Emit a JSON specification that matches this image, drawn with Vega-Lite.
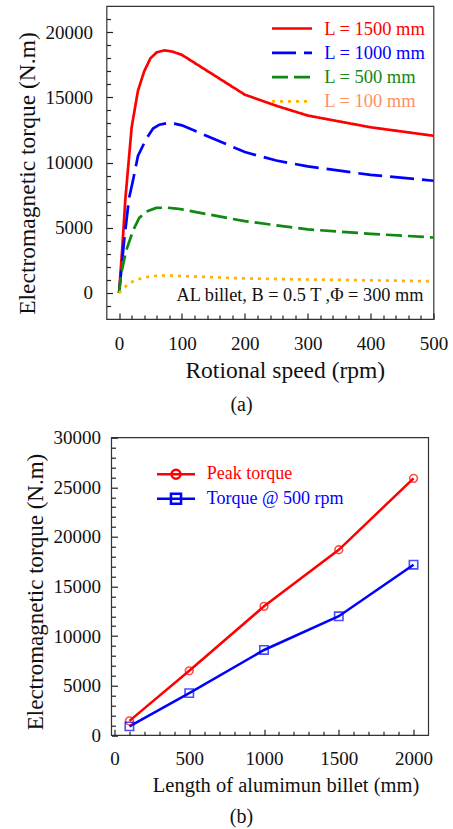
{
  "$schema": "https://vega.github.io/schema/vega-lite/v6.json",
  "background": "white",
  "padding": {"left": 14.5, "top": 5, "right": 5, "bottom": 5},
  "bounds": "flush",
  "spacing": 118.7,
  "resolve": {"scale": {"color": "independent", "strokeDash": "independent"}, "legend": {"color": "independent", "strokeDash": "independent"}},
  "vconcat": [
    {
      "width": 327,
      "height": 313,
      "view": {"stroke": "#333", "strokeWidth": 1.2},
      "title": {"text": "(a)", "orient": "bottom", "anchor": "middle", "frame": "group", "dx": -28.5, "offset": 13, "font": "Liberation Serif", "fontSize": 20, "fontWeight": "normal", "color": "#111"},
      "resolve": {"axis": {"x": "independent", "y": "independent"}},
      "layer": [
        {
          "data": {"values": [
            {"rpm": 0, "torque": 0, "L": "L = 1500 mm"},
            {"rpm": 5, "torque": 3400, "L": "L = 1500 mm"},
            {"rpm": 10, "torque": 7200, "L": "L = 1500 mm"},
            {"rpm": 20, "torque": 12700, "L": "L = 1500 mm"},
            {"rpm": 30, "torque": 15500, "L": "L = 1500 mm"},
            {"rpm": 40, "torque": 17000, "L": "L = 1500 mm"},
            {"rpm": 50, "torque": 18000, "L": "L = 1500 mm"},
            {"rpm": 60, "torque": 18450, "L": "L = 1500 mm"},
            {"rpm": 72, "torque": 18600, "L": "L = 1500 mm"},
            {"rpm": 85, "torque": 18500, "L": "L = 1500 mm"},
            {"rpm": 100, "torque": 18250, "L": "L = 1500 mm"},
            {"rpm": 200, "torque": 15200, "L": "L = 1500 mm"},
            {"rpm": 250, "torque": 14350, "L": "L = 1500 mm"},
            {"rpm": 300, "torque": 13600, "L": "L = 1500 mm"},
            {"rpm": 400, "torque": 12700, "L": "L = 1500 mm"},
            {"rpm": 500, "torque": 12050, "L": "L = 1500 mm"},
            {"rpm": 0, "torque": 0, "L": "L = 1000 mm"},
            {"rpm": 8, "torque": 4000, "L": "L = 1000 mm"},
            {"rpm": 16, "torque": 7300, "L": "L = 1000 mm"},
            {"rpm": 22, "torque": 8600, "L": "L = 1000 mm"},
            {"rpm": 30, "torque": 10500, "L": "L = 1000 mm"},
            {"rpm": 43, "torque": 11800, "L": "L = 1000 mm"},
            {"rpm": 54, "torque": 12600, "L": "L = 1000 mm"},
            {"rpm": 64, "torque": 12900, "L": "L = 1000 mm"},
            {"rpm": 75, "torque": 13000, "L": "L = 1000 mm"},
            {"rpm": 88, "torque": 12980, "L": "L = 1000 mm"},
            {"rpm": 100, "torque": 12850, "L": "L = 1000 mm"},
            {"rpm": 200, "torque": 10800, "L": "L = 1000 mm"},
            {"rpm": 250, "torque": 10150, "L": "L = 1000 mm"},
            {"rpm": 300, "torque": 9700, "L": "L = 1000 mm"},
            {"rpm": 400, "torque": 9050, "L": "L = 1000 mm"},
            {"rpm": 500, "torque": 8600, "L": "L = 1000 mm"},
            {"rpm": 0, "torque": 0, "L": "L = 500 mm"},
            {"rpm": 3, "torque": 1400, "L": "L = 500 mm"},
            {"rpm": 11, "torque": 3200, "L": "L = 500 mm"},
            {"rpm": 22, "torque": 4750, "L": "L = 500 mm"},
            {"rpm": 32, "torque": 5750, "L": "L = 500 mm"},
            {"rpm": 43, "torque": 6230, "L": "L = 500 mm"},
            {"rpm": 59, "torque": 6520, "L": "L = 500 mm"},
            {"rpm": 75, "torque": 6540, "L": "L = 500 mm"},
            {"rpm": 91, "torque": 6470, "L": "L = 500 mm"},
            {"rpm": 100, "torque": 6400, "L": "L = 500 mm"},
            {"rpm": 200, "torque": 5500, "L": "L = 500 mm"},
            {"rpm": 300, "torque": 4870, "L": "L = 500 mm"},
            {"rpm": 400, "torque": 4530, "L": "L = 500 mm"},
            {"rpm": 500, "torque": 4250, "L": "L = 500 mm"},
            {"rpm": 0, "torque": 0, "L": "L = 100 mm"},
            {"rpm": 11, "torque": 520, "L": "L = 100 mm"},
            {"rpm": 24, "torque": 950, "L": "L = 100 mm"},
            {"rpm": 38, "torque": 1150, "L": "L = 100 mm"},
            {"rpm": 51, "torque": 1280, "L": "L = 100 mm"},
            {"rpm": 64, "torque": 1330, "L": "L = 100 mm"},
            {"rpm": 77, "torque": 1340, "L": "L = 100 mm"},
            {"rpm": 100, "torque": 1290, "L": "L = 100 mm"},
            {"rpm": 200, "torque": 1110, "L": "L = 100 mm"},
            {"rpm": 300, "torque": 1030, "L": "L = 100 mm"},
            {"rpm": 400, "torque": 960, "L": "L = 100 mm"},
            {"rpm": 500, "torque": 900, "L": "L = 100 mm"}
          ]},
          "mark": {"type": "line", "strokeWidth": 2.7},
          "encoding": {
            "x": {"field": "rpm", "type": "quantitative",
              "scale": {"domain": [-20, 500], "nice": false, "zero": false},
              "axis": {"orient": "bottom", "values": [0, 100, 200, 300, 400, 500], "format": "d", "zindex": 1,
                "offset": -6, "ticks": true, "tickSize": 6, "tickColor": "#222", "tickOpacity": 1, "tickWidth": 1.2, "domain": false, "grid": false,
                "labelFont": "Liberation Serif", "labelFontSize": 19, "labelColor": "#111", "labelOverlap": false, "labelFlush": false, "labelPadding": 15,
                "title": "Rotional speed (rpm)", "titleFont": "Liberation Serif", "titleFontWeight": "normal", "titleColor": "#111", "titleFontSize": 23.5, "titleX": 178.3, "titleY": 64, "titleBaseline": "alphabetic", "titleAlign": "center"}},
            "y": {"field": "torque", "type": "quantitative",
              "scale": {"domain": [-2000, 22000], "nice": false, "zero": false},
              "axis": {"orient": "left", "values": [0, 5000, 10000, 15000, 20000], "format": "d", "zindex": 1,
                "offset": -6, "ticks": true, "tickSize": 6, "tickColor": "#222", "tickOpacity": 1, "tickWidth": 1.2, "domain": false, "grid": false,
                "labelFont": "Liberation Serif", "labelFontSize": 19, "labelColor": "#111", "labelOverlap": false, "labelFlush": false, "labelPadding": 14,
                "title": "Electromagnetic torque (N.m)", "titleFont": "Liberation Serif", "titleFontWeight": "normal", "titleColor": "#111", "titleFontSize": 23.5, "titleAngle": 270, "titleX": -78, "titleY": 167, "titleBaseline": "alphabetic", "titleAlign": "center"}},
            "color": {"field": "L", "type": "nominal",
              "scale": {"domain": ["L = 1500 mm", "L = 1000 mm", "L = 500 mm", "L = 100 mm"], "range": ["#ff0000", "#0000ff", "#118811", "#ffb000"]},
              "legend": {"title": null, "orient": "none", "legendX": 174, "legendY": 11, "padding": 0,
                "symbolType": "M-2,0L2,0", "symbolSize": 400, "symbolStrokeWidth": 2.7,
                "labelFont": "Liberation Serif", "labelFontSize": 18.5, "labelOffset": 20.7, "rowPadding": 3.3, "labelLimit": 0,
                "encode": {"labels": {"update": {"fill": {"signal": "datum.value === 'L = 1500 mm' ? '#ff0000' : datum.value === 'L = 1000 mm' ? '#0000ff' : datum.value === 'L = 500 mm' ? '#118811' : '#ff9060'"}}}}}},
            "strokeDash": {"field": "L", "type": "nominal",
              "scale": {"domain": ["L = 1500 mm", "L = 1000 mm", "L = 500 mm", "L = 100 mm"], "range": [[1, 0], [24, 8], [16, 6], [3, 5]]},
              "legend": {"title": null, "orient": "none", "legendX": 174, "legendY": 11, "padding": 0,
                "symbolType": "M-2,0L2,0", "symbolSize": 400, "symbolStrokeWidth": 2.7,
                "labelFont": "Liberation Serif", "labelFontSize": 18.5, "labelOffset": 20.7, "rowPadding": 3.3, "labelLimit": 0,
                "encode": {"labels": {"update": {"fill": {"signal": "datum.value === 'L = 1500 mm' ? '#ff0000' : datum.value === 'L = 1000 mm' ? '#0000ff' : datum.value === 'L = 500 mm' ? '#118811' : '#ff9060'"}}}}}}
          }
        },
        {
          "data": {"values": [{"note": "AL billet, B = 0.5 T ,Φ = 300 mm"}]},
          "mark": {"type": "text", "align": "right", "baseline": "alphabetic", "font": "Liberation Serif", "fontSize": 18.3, "color": "#111"},
          "encoding": {
            "x": {"datum": 484, "type": "quantitative",
              "axis": {"orient": "bottom", "values": [20,40,60,80,120,140,160,180,220,240,260,280,320,340,360,380,420,440,460,480], "zindex": 1,
                "offset": -4, "ticks": true, "tickSize": 4, "tickColor": "#222", "tickOpacity": 1, "tickWidth": 1.2, "domain": false, "grid": false, "labels": false, "title": null}},
            "y": {"datum": -585, "type": "quantitative",
              "axis": {"orient": "left", "values": [-1000,1000,2000,3000,4000,6000,7000,8000,9000,11000,12000,13000,14000,16000,17000,18000,19000,21000], "zindex": 1,
                "offset": -4, "ticks": true, "tickSize": 4, "tickColor": "#222", "tickOpacity": 1, "tickWidth": 1.2, "domain": false, "grid": false, "labels": false, "title": null}},
            "text": {"field": "note"}
          }
        }
      ]
    },
    {
      "width": 322,
      "height": 297.6,
      "view": {"stroke": null},
      "title": {"text": "(b)", "orient": "bottom", "anchor": "middle", "frame": "group", "dx": -26, "offset": 11, "font": "Liberation Serif", "fontSize": 20, "fontWeight": "normal", "color": "#111"},
      "resolve": {"axis": {"x": "independent", "y": "independent"}},
      "layer": [
        {
          "data": {"values": [{"frame": "box"}]},
          "mark": {"type": "rect", "filled": false, "color": "#333", "strokeWidth": 1.2},
          "encoding": {
            "x": {"datum": -20, "type": "quantitative",
              "axis": {"orient": "bottom", "values": [100,200,300,400,600,700,800,900,1100,1200,1300,1400,1600,1700,1800,1900], "zindex": 1,
                "offset": -4, "ticks": true, "tickSize": 4, "tickColor": "#222", "tickOpacity": 1, "tickWidth": 1.2, "domain": false, "grid": false, "labels": false, "title": null}},
            "x2": {"datum": 2100},
            "y": {"datum": 0, "type": "quantitative",
              "axis": {"orient": "left", "values": [1000,2000,3000,4000,6000,7000,8000,9000,11000,12000,13000,14000,16000,17000,18000,19000,21000,22000,23000,24000,26000,27000,28000,29000], "zindex": 1,
                "offset": -9, "ticks": true, "tickSize": 4, "tickColor": "#222", "tickOpacity": 1, "tickWidth": 1.2, "domain": false, "grid": false, "labels": false, "title": null}},
            "y2": {"datum": 30000}
          }
        },
        {
          "data": {"name": "b"},
          "mark": {"type": "line", "strokeWidth": 2.5},
          "encoding": {
            "x": {"field": "length", "type": "quantitative",
              "scale": {"domain": [-53.4, 2100], "nice": false, "zero": false},
              "axis": {"orient": "bottom", "values": [0, 500, 1000, 1500, 2000], "format": "d", "zindex": 1,
                "offset": -6, "ticks": true, "tickSize": 6, "tickColor": "#222", "tickOpacity": 1, "tickWidth": 1.2, "domain": false, "grid": false,
                "labelFont": "Liberation Serif", "labelFontSize": 19, "labelColor": "#111", "labelOverlap": false, "labelFlush": false, "labelPadding": 14.5,
                "title": "Length of alumimun billet (mm)", "titleFont": "Liberation Serif", "titleFontWeight": "normal", "titleColor": "#111", "titleFontSize": 20.5, "titleX": 179, "titleY": 61.7, "titleBaseline": "alphabetic", "titleAlign": "center"}},
            "y": {"field": "torque", "type": "quantitative",
              "scale": {"domain": [0, 30000], "nice": false, "zero": false},
              "axis": {"orient": "left", "values": [0, 5000, 10000, 15000, 20000, 25000, 30000], "format": "d", "zindex": 1,
                "offset": -11, "ticks": true, "tickSize": 6, "tickColor": "#222", "tickOpacity": 1, "tickWidth": 1.2, "domain": false, "grid": false,
                "labelFont": "Liberation Serif", "labelFontSize": 19, "labelColor": "#111", "labelOverlap": false, "labelFlush": false, "labelPadding": 11,
                "title": "Electromagnetic torque (N.m)", "titleFont": "Liberation Serif", "titleFontWeight": "normal", "titleColor": "#111", "titleFontSize": 23, "titleAngle": 270, "titleX": -75, "titleY": 153.8, "titleBaseline": "alphabetic", "titleAlign": "center"}},
            "color": {"field": "series", "type": "nominal",
              "scale": {"domain": ["Peak torque", "Torque @ 500 rpm"], "range": ["#ff0000", "#0000ff"]},
              "legend": {"title": null, "orient": "none", "legendX": 58.5, "legendY": 25.5, "padding": 0,
                "symbolType": "M-2,0L2,0", "symbolSize": 361, "symbolStrokeWidth": 2.5,
                "labelFont": "Liberation Serif", "labelFontSize": 18, "labelOffset": 19.8, "rowPadding": 3.6, "labelLimit": 0,
                "encode": {
                  "labels": {"update": {"fill": {"signal": "datum.value === 'Peak torque' ? '#ff0000' : '#0000ff'"}}},
                  "symbols": {"update": {"fill": {"value": "transparent"}, "shape": {"signal": "datum.value === 'Peak torque' ? 'M-2,0L2,0M0.47,0A0.47,0.47,0,1,1,-0.47,0A0.47,0.47,0,1,1,0.47,0' : 'M-2,0L2,0M-0.53,-0.53L0.53,-0.53L0.53,0.53L-0.53,0.53Z'"}}}
                }}}
          }
        },
        {
          "data": {"name": "b"},
          "transform": [{"filter": "datum.series === 'Peak torque'"}],
          "mark": {"type": "point", "shape": "circle", "filled": false, "size": 60, "strokeWidth": 1.6},
          "encoding": {
            "x": {"field": "length", "type": "quantitative", "axis": null},
            "y": {"field": "torque", "type": "quantitative", "axis": null},
            "color": {"field": "series", "type": "nominal", "legend": null}
          }
        },
        {
          "data": {"name": "b"},
          "transform": [{"filter": "datum.series === 'Torque @ 500 rpm'"}],
          "mark": {"type": "point", "shape": "square", "filled": false, "size": 70, "strokeWidth": 1.6},
          "encoding": {
            "x": {"field": "length", "type": "quantitative", "axis": null},
            "y": {"field": "torque", "type": "quantitative", "axis": null},
            "color": {"field": "series", "type": "nominal", "legend": null}
          }
        }
      ]
    }
  ],
  "datasets": {
    "b": [
      {"length": 100, "torque": 1450, "series": "Peak torque"},
      {"length": 500, "torque": 6500, "series": "Peak torque"},
      {"length": 1000, "torque": 13000, "series": "Peak torque"},
      {"length": 1500, "torque": 18700, "series": "Peak torque"},
      {"length": 2000, "torque": 25900, "series": "Peak torque"},
      {"length": 100, "torque": 900, "series": "Torque @ 500 rpm"},
      {"length": 500, "torque": 4250, "series": "Torque @ 500 rpm"},
      {"length": 1000, "torque": 8600, "series": "Torque @ 500 rpm"},
      {"length": 1500, "torque": 12000, "series": "Torque @ 500 rpm"},
      {"length": 2000, "torque": 17200, "series": "Torque @ 500 rpm"}
    ]
  }
}
